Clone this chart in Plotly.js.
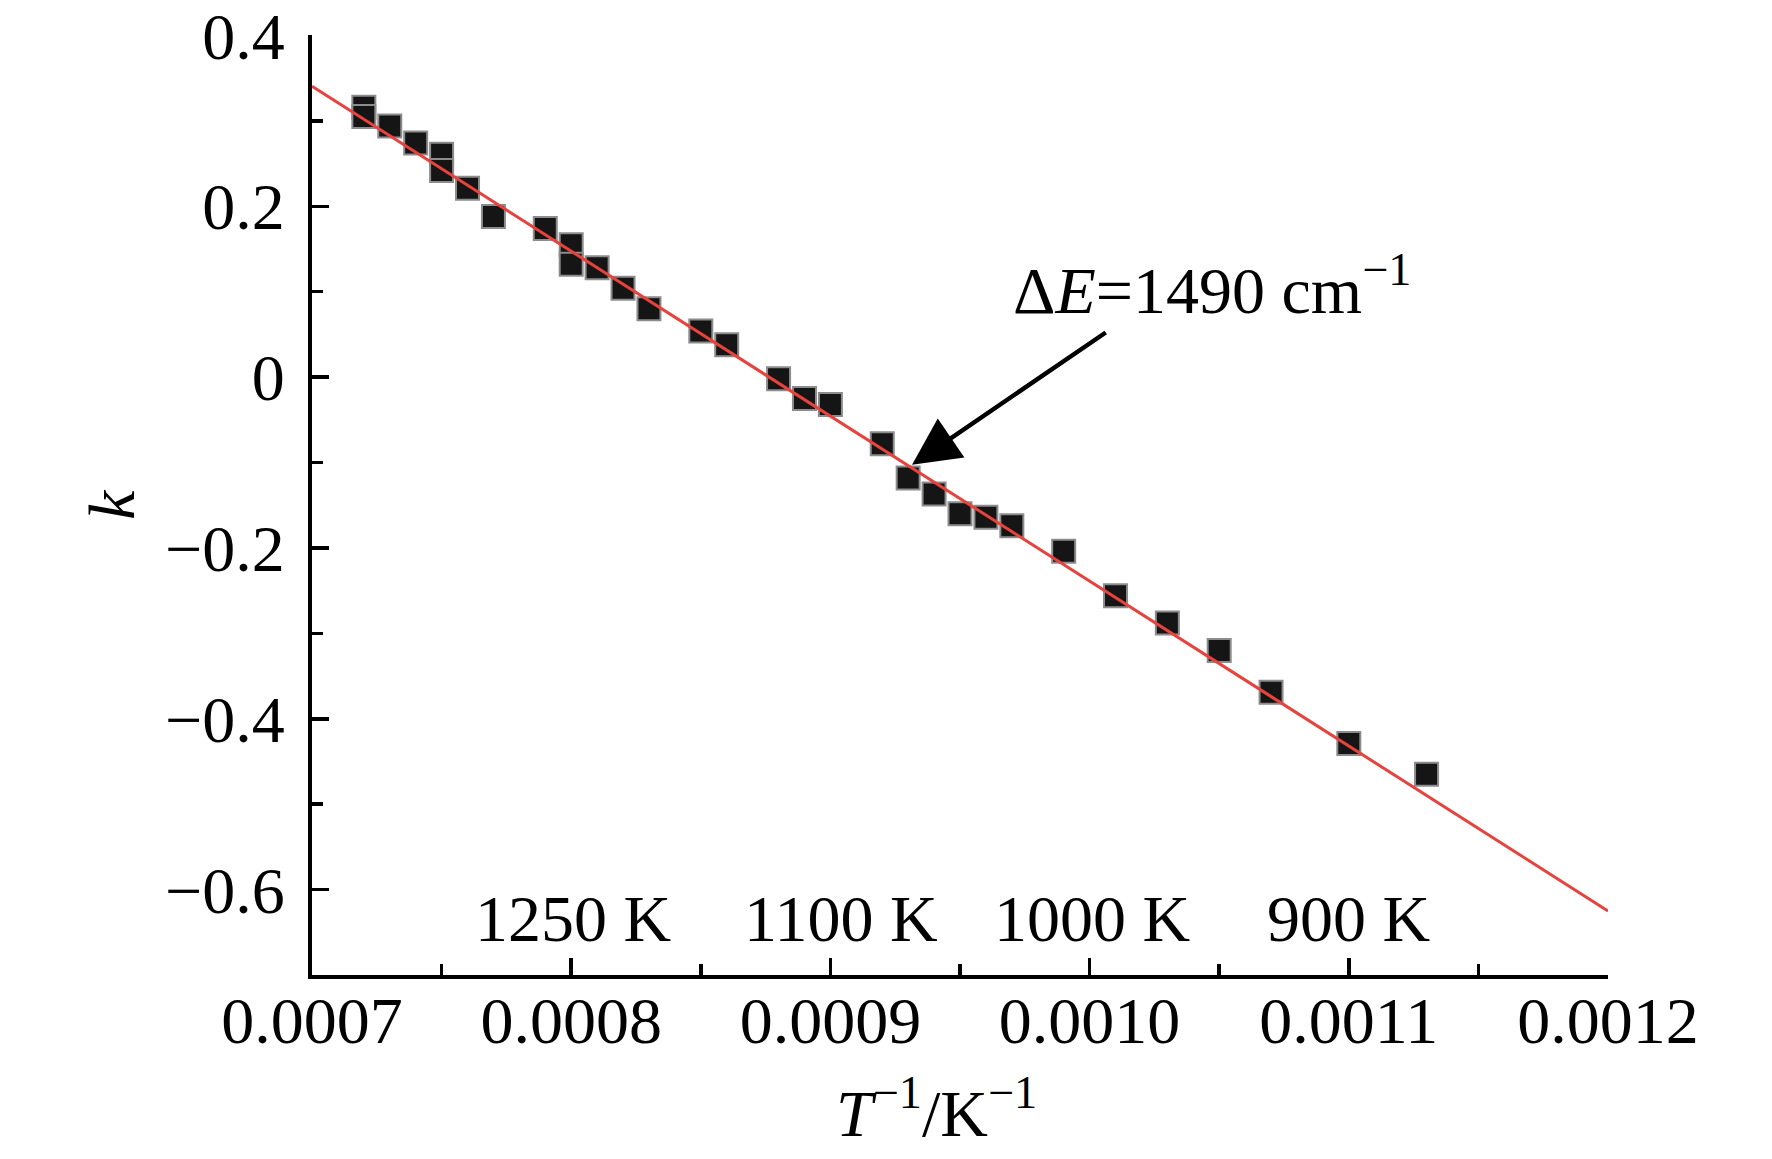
<!DOCTYPE html>
<html>
<head>
<meta charset="utf-8">
<script src="https://cdn.plot.ly/plotly-3.0.1.min.js"></script>
<style>
  html, body { margin: 0; padding: 0; background: #fff; }
  #chart { width: 1772px; height: 1159px; }
</style>
</head>
<body>
<div id="chart"></div>
<script>
// measured points, inverse temperature vs k
var invT = [0.00072, 0.00072, 0.00073, 0.00074, 0.00075, 0.00075, 0.00076, 0.00077,
            0.00079, 0.00080, 0.00080, 0.00081, 0.00082, 0.00083, 0.00085, 0.00086,
            0.00088, 0.00089, 0.00090, 0.00092, 0.00093, 0.00094, 0.00095, 0.00096,
            0.00097, 0.00099, 0.00101, 0.00103, 0.00105, 0.00107, 0.00110, 0.00113];
var kVals = [0.316, 0.305, 0.294, 0.274, 0.261, 0.242, 0.221, 0.188,
             0.174, 0.155, 0.132, 0.128, 0.104, 0.080, 0.054, 0.038,
             -0.002, -0.025, -0.032, -0.078, -0.118, -0.137, -0.160, -0.164,
             -0.174, -0.204, -0.256, -0.288, -0.320, -0.369, -0.429, -0.465];

// linear fit, end points
var fitX = [0.0007, 0.0012];
var fitY = [0.3405, -0.625];

// temperature labels along the bottom
var tempLabels = ["1250 K", "1100 K", "1000 K", "900 K"];
var tempPos = [0.0008005, 0.000904, 0.001001, 0.0011];

var yTickVals = [-0.6, -0.4, -0.2, 0, 0.2, 0.4];
var yTickText = ["\u22120.6", "\u22120.4", "\u22120.2", "0", "0.2", "0.4"];
var xTickVals = [0.0007, 0.0008, 0.0009, 0.0010, 0.0011, 0.0012];
var xTickText = ["0.0007", "0.0008", "0.0009", "0.0010", "0.0011", "0.0012"];

var serif = "Liberation Serif, Times New Roman, serif";
var fs = 66;

var points = {
    x: invT,
    y: kVals,
    mode: 'markers',
    type: 'scatter',
    marker: {
        symbol: 'square',
        size: 23,
        color: '#151515',
        line: { color: '#8c8c8c', width: 2 }
    },
    showlegend: false
};
var fit = {
    x: fitX,
    y: fitY,
    mode: 'lines',
    type: 'scatter',
    line: { color: '#e8423c', width: 3 },
    showlegend: false
};

var annotations = [];
tempLabels.forEach(function (t, i) {
    annotations.push({
        x: tempPos[i], y: -0.634, xref: 'x', yref: 'y',
        text: t, showarrow: false,
        xanchor: 'center', yanchor: 'middle',
        font: { family: serif, size: fs, color: '#000' }
    });
});
// arrow to the fit line
annotations.push({
    x: 0.0009315, y: -0.1026, xref: 'x', yref: 'y',
    ax: 0.0010068, ay: 0.0534, axref: 'x', ayref: 'y',
    text: '', showarrow: true,
    arrowhead: 2, arrowsize: 2.1, arrowwidth: 4.5, arrowcolor: '#000',
    standoff: 0, startstandoff: 0
});
annotations.push({
    x: 0.0009698, y: 0.107, xref: 'x', yref: 'y',
    text: '\u0394<i>E</i>=1490 cm<sup>\u22121</sup>', showarrow: false,
    xanchor: 'left', yanchor: 'middle',
    font: { family: serif, size: fs, color: '#000' }
});
// axis titles
annotations.push({
    x: 0.482, y: -0.142, xref: 'paper', yref: 'paper',
    text: '<i>T</i><sup>\u22121</sup>/K<sup>\u22121</sup>', showarrow: false,
    xanchor: 'center', yanchor: 'middle',
    font: { family: serif, size: fs, color: '#000' }
});
annotations.push({
    x: -0.155, y: 0.5, xref: 'paper', yref: 'paper',
    text: '<i>k</i>', showarrow: false, textangle: -90,
    xanchor: 'center', yanchor: 'middle',
    font: { family: serif, size: fs, color: '#000' }
});

var layout = {
    width: 1772,
    height: 1159,
    margin: { l: 312, r: 164, t: 35, b: 184 },
    paper_bgcolor: '#fff',
    plot_bgcolor: '#fff',
    font: { family: serif, size: fs, color: '#000' },
    xaxis: {
        range: [0.0007, 0.0012],
        showgrid: false, zeroline: false,
        showline: true, linecolor: '#000', linewidth: 4,
        ticks: 'inside', ticklen: 17, tickwidth: 3.5, tickcolor: '#000',
        tickvals: xTickVals, ticktext: xTickText,
        ticklabelstandoff: -15, ticklabeloverflow: 'allow',
        minor: { ticks: 'inside', ticklen: 11, tickwidth: 3.5, tickcolor: '#000', dtick: 0.00005, tick0: 0.00075 },
        tickfont: { family: serif, size: fs, color: '#000' }
    },
    yaxis: {
        range: [-0.7, 0.4005],
        showgrid: false, zeroline: false,
        showline: true, linecolor: '#000', linewidth: 4,
        ticks: 'inside', ticklen: 17, tickwidth: 3.5, tickcolor: '#000',
        tickvals: yTickVals, ticktext: yTickText,
        ticklabelstandoff: 10, ticklabeloverflow: 'allow',
        minor: { ticks: 'inside', ticklen: 11, tickwidth: 3.5, tickcolor: '#000', dtick: 0.1, tick0: 0.1 },
        tickfont: { family: serif, size: fs, color: '#000' }
    },
    annotations: annotations
};

Plotly.newPlot('chart', [points, fit], layout, { displayModeBar: false, staticPlot: true });
</script>
</body>
</html>
